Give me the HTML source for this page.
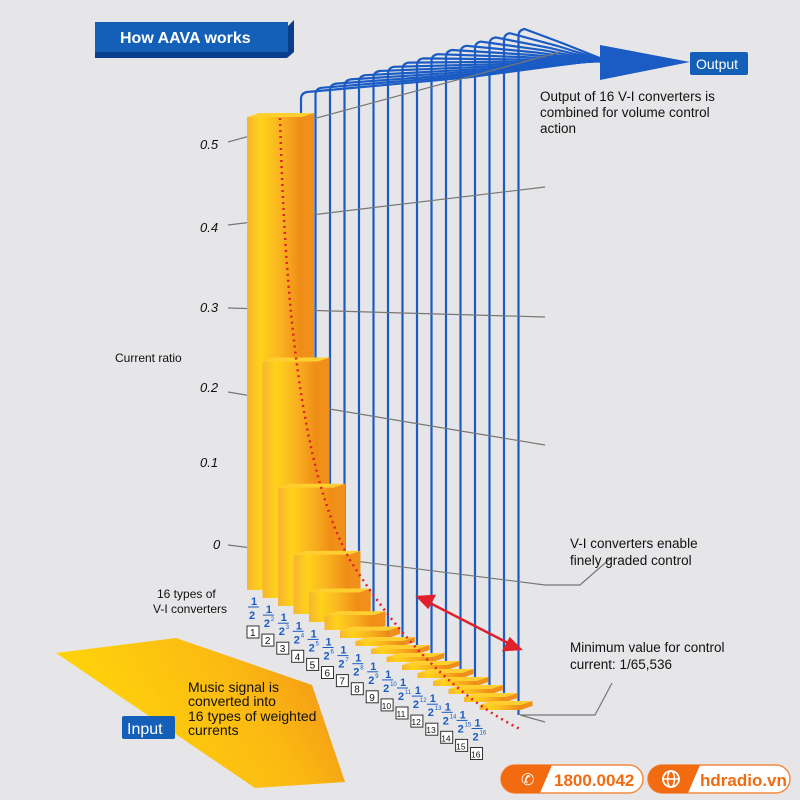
<!DOCTYPE html>
<html><head><meta charset="utf-8"><style>
html,body{margin:0;padding:0;background:#e6e6e8;}
svg{display:block;font-family:"Liberation Sans",sans-serif;}
</style></head><body>
<svg id="s" width="800" height="800" viewBox="0 0 800 800" xmlns="http://www.w3.org/2000/svg">
<defs>
<linearGradient id="bar" x1="0" x2="1" y1="0" y2="0">
<stop offset="0" stop-color="#f6b530"/><stop offset="0.25" stop-color="#ffd21a"/><stop offset="0.6" stop-color="#f9b420"/><stop offset="1" stop-color="#ef8a15"/></linearGradient>
<linearGradient id="inp" x1="0" x2="1" y1="0.3" y2="0">
<stop offset="0" stop-color="#ffd60a"/><stop offset="0.6" stop-color="#fbb812"/><stop offset="1" stop-color="#f08a18"/></linearGradient>
</defs>
<rect width="800" height="800" fill="#e6e6e8"/>
<polygon points="95,27 287,27 294,20 294,52 287,58 95,58" fill="#0a3d8c"/>
<rect x="95" y="22" width="193" height="30" fill="#1460b8"/>
<text x="120" y="43" fill="#fff" font-size="16" font-weight="bold">How AAVA works</text>
<g id="wires"></g>
<polygon points="600,45 690,62 600,80" fill="#1a5bc4"/>
<rect x="690" y="52" width="58" height="23" rx="2" fill="#1460b8"/>
<text x="696" y="69" fill="#fff" font-size="14">Output</text>
<g stroke="#777" stroke-width="1.2" fill="none">
<line x1="228" y1="142" x2="560" y2="52"/>
<line x1="228" y1="225" x2="545" y2="187"/>
<line x1="228" y1="308" x2="545" y2="317"/>
<line x1="228" y1="392" x2="545" y2="445"/>
<line x1="228" y1="545" x2="545" y2="585"/>
<polyline points="612,557 580,585 545,585"/>
<polyline points="612,683 595,715 520,715 545,722"/>
</g>
<g id="bars"></g>
<path d="M280,118 C285,300 300,470 350,560 C400,640 460,700 522,730" fill="none" stroke="#e0202a" stroke-width="2.5" stroke-dasharray="2 4"/>
<g stroke="#e0202a" stroke-width="2.5" fill="#e0202a">
<line x1="428" y1="602" x2="510" y2="644"/>
<polygon points="418,597 434,596 428,607"/>
<polygon points="520,649 504,650 510,639"/>
</g>
<g font-size="13" fill="#111" font-style="italic">
<text x="200" y="149">0.5</text><text x="200" y="232">0.4</text><text x="200" y="312">0.3</text>
<text x="200" y="392">0.2</text><text x="200" y="467">0.1</text><text x="213" y="549">0</text>
</g>
<text x="115" y="362" font-size="12" fill="#111">Current ratio</text>
<text x="157" y="598" font-size="12" fill="#111">16 types of</text>
<text x="153" y="613" font-size="12" fill="#111">V-I converters</text>
<g font-size="13.5" fill="#111">
<text x="540" y="101">Output of 16 V-I converters is</text>
<text x="540" y="117">combined for volume control</text>
<text x="540" y="133">action</text>
<text x="570" y="548">V-I converters enable</text>
<text x="570" y="565">finely graded control</text>
<text x="570" y="652">Minimum value for control</text>
<text x="570" y="669">current: 1/65,536</text>
</g>
<polygon points="56,653 176,638 312,685 345,782 255,788" fill="url(#inp)"/>
<text x="188" y="692" font-size="14" fill="#111">Music signal is</text>
<text x="188" y="706" font-size="14" fill="#111">converted into</text>
<text x="188" y="721" font-size="14" fill="#111">16 types of weighted</text>
<text x="188" y="735" font-size="14" fill="#111">currents</text>
<rect x="122" y="716" width="53" height="23" rx="2" fill="#1460b8"/>
<text x="127" y="734" font-size="16" fill="#fff">Input</text>
<g id="labels" font-size="10"></g>
<rect x="501" y="765" width="142" height="28" rx="14" fill="#fff" stroke="#f28a40" stroke-width="1.5"/>
<path d="M515,765 L552,765 L540,793 L515,793 A14,14 0 0 1 515,765Z" fill="#f26b10"/>
<text x="521" y="785" font-size="16" fill="#fff">✆</text>
<text x="554" y="786" font-size="17" font-weight="bold" fill="#f26b10">1800.0042</text>
<rect x="648" y="765" width="142" height="28" rx="14" fill="#fff" stroke="#f28a40" stroke-width="1.5"/>
<path d="M662,765 L700,765 L688,793 L662,793 A14,14 0 0 1 662,765Z" fill="#f26b10"/>
<circle cx="671" cy="779" r="8" fill="none" stroke="#fff" stroke-width="1.8"/>
<line x1="663" y1="779" x2="679" y2="779" stroke="#fff" stroke-width="1.5"/>
<ellipse cx="671" cy="779" rx="3.5" ry="8" fill="none" stroke="#fff" stroke-width="1.5"/>
<text x="700" y="786" font-size="17" font-weight="bold" fill="#f26b10">hdradio.vn</text>
</svg>
<script>
(function(){
var NS="http://www.w3.org/2000/svg";
function el(p,t,a,txt){var e=document.createElementNS(NS,t);for(var k in a)e.setAttribute(k,a[k]);if(txt!=null)e.textContent=txt;p.appendChild(e);return e;}
var W=document.getElementById('wires'),B=document.getElementById('bars'),L=document.getElementById('labels');
for(var i=0;i<16;i++){
 var x=301+i*14.5, ty=93-i*4.2, bot=595+i*8;
 var ey=62+(i-8)*0.6;
 var mx=x+(600-x)*0.55, my=ty-1-(ty-ey)*0.4;
 el(W,'path',{d:'M'+x+','+bot+' L'+x+','+(ty+6)+' Q'+x+','+ty+' '+(x+6)+','+(ty-1)+' L'+mx+','+my+' L620,'+ey,fill:'none',stroke:'#1a5bc4','stroke-width':2.2});
}
for(var i=0;i<16;i++){
 var x=247+15.5*i, by=590+8*i, w=(i<4?55:53-i*0.8);
 var h=Math.max(946*Math.pow(2,-(i+1)), 5);
 var d=12;
 el(B,'polygon',{points:x+','+(by-h)+' '+(x+d)+','+(by-h-4)+' '+(x+w+d)+','+(by-h-4)+' '+(x+w)+','+(by-h),fill:'#ffcf30'});
 el(B,'polygon',{points:(x+w)+','+(by-h)+' '+(x+w+d)+','+(by-h-4)+' '+(x+w+d)+','+(by-4)+' '+(x+w)+','+by,fill:'#f0901a'});
 el(B,'rect',{x:x,y:by-h,width:w,height:h,fill:'url(#bar)'});
}
for(var i=0;i<16;i++){
 var lx=247+14.9*i, ly=626+8.1*i;
 el(L,'rect',{x:lx,y:ly,width:12,height:12,fill:'#fff',stroke:'#333','stroke-width':1});
 el(L,'text',{x:lx+(i<9?3:0.5),y:ly+10,'font-size':(i<9?10:8.5),fill:'#111'},String(i+1));
 var fx=lx+1, fy=ly-7;
 el(L,'text',{x:fx+3,y:fy-14,'font-size':11,fill:'#1a5bc4','font-weight':'bold'},'1');
 el(L,'line',{x1:fx,y1:fy-12,x2:fx+11,y2:fy-12,stroke:'#1a5bc4','stroke-width':1});
 el(L,'text',{x:fx+1,y:fy,'font-size':11,fill:'#1a5bc4','font-weight':'bold'},'2');
 if(i>0)el(L,'text',{x:fx+8,y:fy-6,'font-size':6,fill:'#1a5bc4'},String(i+1));
}
})();
</script>
</body></html>
